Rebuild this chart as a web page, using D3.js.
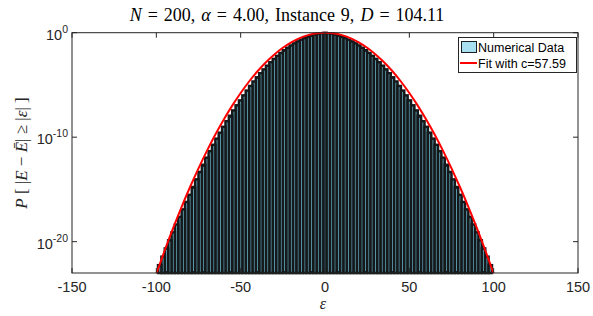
<!DOCTYPE html>
<html>
<head>
<meta charset="utf-8">
<script src="https://cdn.jsdelivr.net/npm/d3@7"></script>
<style>
  html, body { margin: 0; padding: 0; background: #fff; }
  svg { display: block; }
</style>
</head>
<body>
<svg id="chart" width="593" height="316"></svg>
<script>
// P[|E - Ebar| >= |eps|] is symmetric in eps, so heights are stored for |eps|
// and drawn on both sides. Values are log10 of the probability.
const barAbsEps = d3.range(0, 101, 2);
const barLog10 = [
  -0.02, -0.06, -0.11, -0.19, -0.28, -0.39, -0.52, -0.67, -0.83, -1.02,
  -1.22, -1.44, -1.68, -1.94, -2.22, -2.51, -2.83, -3.16, -3.51, -3.88,
  -4.27, -4.67, -5.10, -5.54, -6.00, -6.48, -6.95, -7.44, -7.95, -8.47,
  -9.01, -9.57, -10.14, -10.73, -11.34, -11.96, -12.64, -13.33, -14.04, -14.77,
  -15.52, -16.20, -16.91, -17.63, -18.36, -19.11, -19.87, -20.65, -21.44, -22.25,
  -23.07
];

const fitAbsEps = d3.range(0, 101, 5);
const fitLog10 = [
  0, -0.06, -0.23, -0.52, -0.92, -1.44, -2.08, -2.83, -3.69, -4.67,
  -5.77, -6.98, -8.31, -9.75, -11.31, -12.98, -14.77, -16.67, -18.69, -20.82,
  -23.07
];

const xTicks = [-150, -100, -50, 0, 50, 100, 150];
const yTicks = [0, -10, -20];           // exponents of 10
const BAR_WIDTH = 2;

const svg = d3.select("#chart");
const L = 72, R = 578, T = 32.7, B = 273;

const x = d3.scaleLinear().domain([-150, 150]).range([L, R]);
const y = d3.scaleLinear().domain([-23, 0]).range([B, T]);   // log10 space

const tickFont = "'Liberation Sans', Arial, Helvetica, sans-serif";
const serif = "'Liberation Serif', 'Times New Roman', serif";
const axisColor = "#262626";

// Bars
const bars = [];
barAbsEps.forEach((e, i) => {
  const v = barLog10[i];
  if (v <= -23) return;
  bars.push({ eps: e, v });
  if (e !== 0) bars.push({ eps: -e, v });
});

svg.append("clipPath").attr("id", "clip")
  .append("rect").attr("x", L).attr("y", T - 2).attr("width", R - L).attr("height", B - T + 2);

svg.append("g").selectAll("rect.bar")
  .data(bars)
  .join("rect")
  .attr("class", "bar")
  .attr("x", d => x(d.eps - BAR_WIDTH / 2))
  .attr("width", x(BAR_WIDTH) - x(0))
  .attr("y", d => y(d.v))
  .attr("height", d => B - y(d.v))
  .attr("fill", "#62a9bd")
  .attr("stroke", "#15191b")
  .attr("stroke-width", 2.5);

// Fit line
const fitPts = [];
for (let i = fitAbsEps.length - 1; i > 0; i--) fitPts.push([-fitAbsEps[i], fitLog10[i]]);
fitAbsEps.forEach((e, i) => fitPts.push([e, fitLog10[i]]));

svg.append("path")
  .datum(fitPts)
  .attr("clip-path", "url(#clip)")
  .attr("fill", "none")
  .attr("stroke", "#ff0000")
  .attr("stroke-width", 2)
  .attr("d", d3.line().x(d => x(d[0])).y(d => y(d[1])).curve(d3.curveNatural));

// Frame
svg.append("rect")
  .attr("x", L).attr("y", T).attr("width", R - L).attr("height", B - T)
  .attr("fill", "none").attr("stroke", axisColor).attr("stroke-width", 1);

// Ticks (box on: ticks on all four sides)
const tl = 5;
xTicks.forEach(t => {
  const px = x(t);
  svg.append("line").attr("x1", px).attr("x2", px).attr("y1", B).attr("y2", B - tl)
    .attr("stroke", axisColor);
  svg.append("line").attr("x1", px).attr("x2", px).attr("y1", T).attr("y2", T + tl)
    .attr("stroke", axisColor);
  svg.append("text")
    .attr("x", px).attr("y", B + 19)
    .attr("text-anchor", "middle")
    .attr("font-family", tickFont).attr("font-size", 14.5)
    .attr("fill", axisColor)
    .text(t);
});

yTicks.forEach(t => {
  const py = y(t);
  svg.append("line").attr("x1", L).attr("x2", L + tl).attr("y1", py).attr("y2", py)
    .attr("stroke", axisColor);
  svg.append("line").attr("x1", R).attr("x2", R - tl).attr("y1", py).attr("y2", py)
    .attr("stroke", axisColor);
  const txt = svg.append("text")
    .attr("x", L - 4).attr("y", py + 7)
    .attr("text-anchor", "end")
    .attr("font-family", tickFont).attr("font-size", 14.5)
    .attr("fill", axisColor);
  txt.append("tspan").text("10");
  txt.append("tspan").attr("dy", -7).attr("font-size", 10.5).text(t);
});

// Title
const title = svg.append("text")
  .attr("x", 287).attr("y", 21)
  .attr("text-anchor", "middle")
  .attr("font-family", serif).attr("font-size", 18)
  .attr("word-spacing", 1.5)
  .attr("fill", "#000");
title.append("tspan").attr("font-style", "italic").text("N");
title.append("tspan").text(" = 200, ");
title.append("tspan").attr("font-style", "italic").text("α");
title.append("tspan").text(" = 4.00, Instance 9, ");
title.append("tspan").attr("font-style", "italic").text("D");
title.append("tspan").text(" = 104.11");

// X label
svg.append("text")
  .attr("x", 323).attr("y", 309)
  .attr("text-anchor", "middle")
  .attr("font-family", serif).attr("font-size", 16).attr("font-style", "italic")
  .attr("fill", axisColor)
  .text("ε");

// Y label
const yl = svg.append("text")
  .attr("transform", "translate(27,153) rotate(-90)")
  .attr("text-anchor", "middle")
  .attr("font-family", serif).attr("font-size", 17)
  .attr("fill", axisColor);
yl.append("tspan").attr("font-style", "italic").text("P");
yl.append("tspan").text(" [ |");
yl.append("tspan").attr("font-style", "italic").text("E");
yl.append("tspan").text(" − ");
yl.append("tspan").attr("font-style", "italic").text("Ē");
yl.append("tspan").text("| ≥ |");
yl.append("tspan").attr("font-style", "italic").text("ε");
yl.append("tspan").text("| ]");

// Legend
const lg = svg.append("g");
lg.append("rect")
  .attr("x", 458.5).attr("y", 37.5).attr("width", 118).attr("height", 35)
  .attr("fill", "#fff").attr("stroke", axisColor).attr("stroke-width", 1);
lg.append("rect")
  .attr("x", 461.5).attr("y", 41.5).attr("width", 15).attr("height", 11)
  .attr("fill", "#a8e0f2").attr("stroke", "#1a1f22").attr("stroke-width", 1);
lg.append("text")
  .attr("x", 478).attr("y", 52)
  .attr("font-family", tickFont).attr("font-size", 12.5).attr("fill", "#000")
  .text("Numerical Data");
lg.append("line")
  .attr("x1", 460).attr("x2", 477).attr("y1", 63).attr("y2", 63)
  .attr("stroke", "#ff0000").attr("stroke-width", 2);
lg.append("text")
  .attr("x", 478).attr("y", 67.5)
  .attr("font-family", tickFont).attr("font-size", 12.5).attr("fill", "#000")
  .text("Fit with c=57.59");
</script>
</body>
</html>
